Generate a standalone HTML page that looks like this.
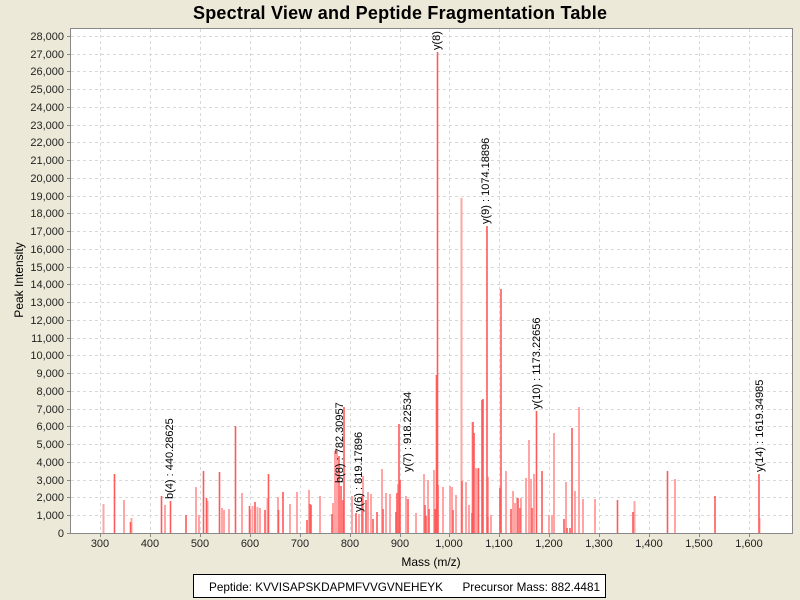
<!DOCTYPE html>
<html><head><meta charset="utf-8"><style>
body{margin:0;background:#ECE9D8;}
svg{display:block;font-family:"Liberation Sans",sans-serif;}
</style></head><body>
<svg width="800" height="600" xmlns="http://www.w3.org/2000/svg">
<rect width="800" height="600" fill="#ECE9D8"/>
<text x="400" y="19" text-anchor="middle" font-size="18" font-weight="bold" textLength="414">Spectral View and Peptide Fragmentation Table</text>
<rect x="70.5" y="28.5" width="722" height="505" fill="#fff"/>
<g stroke="#d8d8d8" stroke-dasharray="3,3" stroke-width="1">
<path d="M71 515.5H792M71 497.5H792M71 480.5H792M71 462.5H792M71 444.5H792M71 426.5H792M71 409.5H792M71 391.5H792M71 373.5H792M71 355.5H792M71 338.5H792M71 320.5H792M71 302.5H792M71 284.5H792M71 267.5H792M71 249.5H792M71 231.5H792M71 213.5H792M71 196.5H792M71 178.5H792M71 160.5H792M71 142.5H792M71 125.5H792M71 107.5H792M71 89.5H792M71 71.5H792M71 54.5H792M71 36.5H792"/>
<path d="M100.5 29V533M150.5 29V533M200.5 29V533M250.5 29V533M300.5 29V533M350.5 29V533M400.5 29V533M449.5 29V533M499.5 29V533M549.5 29V533M599.5 29V533M649.5 29V533M699.5 29V533M749.5 29V533"/>
</g>
<g stroke="#ffa5a5" stroke-width="2">
<path d="M103.5 533V504M124 533V500M131.5 533V518M165 533V505M196 533V487M199 533V515M207.5 533V501M222 533V508M224 533V510M229 533V509M242 533V493M250 533V510M252.5 533V506M257.5 533V507M260 533V508M267.5 533V498M278 533V497M290 533V504M297 533V492M309 533V490M320 533V496M333 533V503M335 533V451M337 533V450M352 533V496M359 533V514M363 533V476M368 533V492M371 533V494M382 533V469M386 533V493M390 533V494M398 533V484M406 533V496M416 533V513M424 533V474M428 533V480M434 533V470M443 533V487M450 533V486M452 533V487M456 533V495M461.5 533V198M466 533V482M469 533V505M472.5 533V422M476 533V468M478 533V469M488 533V477M491 533V515M506 533V471M513 533V491M515 533V503M517 533V498M521 533V498M526 533V478M529 533V440M531 533V479M534 533V474M549 533V515M552 533V515M554 533V433M566 533V482M575 533V491M579 533V407M583 533V499M595 533V499M634.5 533V501M675 533V479M759.5 533V518"/>
</g>
<g stroke="#ff5a5a" stroke-width="1.6">
<path d="M114.5 533V474M130.5 533V522M161.5 533V496M170.5 533V501M186 533V515M203.5 533V471M206.5 533V498M219.5 533V472M235.5 533V426M249.5 533V506M255 533V502M265 533V510M268.5 533V474M278.5 533V510M283 533V492M307 533V520M310 533V504M311 533V505M332 533V514M339 533V456M341 533V486M343 533V500M344 533V407M356 533V513M362 533V496M366 533V500M373 533V519M377 533V512M383 533V509M396 533V512M397 533V493M399 533V424M400 533V480M408 533V499M425 533V505M426 533V516M429 533V509M435 533V509M436.5 533V375M437.5 533V52M438 533V485M453 533V510M462 533V481M472 533V513M473 533V422M474 533V433M478.5 533V468M482 533V400M483 533V399M487 533V226M487.5 533V517M500 533V488M501 533V289M511 533V509M518 533V498M520 533V508M532 533V508M536.5 533V411M542 533V471M564 533V519M567 533V528M570 533V528M572 533V428M617.5 533V500M633 533V512M667.5 533V471M715 533V496M759 533V474"/>
</g>
<rect x="70.5" y="28.5" width="722" height="505" fill="none" stroke="#888"/>
<defs><clipPath id="c"><rect x="70" y="28" width="723" height="506"/></clipPath></defs>
<g font-size="11" clip-path="url(#c)">
<text transform="translate(173,499) rotate(-90)">b(4) : 440.28625</text>
<text transform="translate(343,483) rotate(-90)">b(8) : 782.30957</text>
<text transform="translate(362,512) rotate(-90)">y(6) : 819.17896</text>
<text transform="translate(411,472) rotate(-90)">y(7) : 918.22534</text>
<text transform="translate(440,50) rotate(-90)">y(8) : 974.41296</text>
<text transform="translate(489,224) rotate(-90)">y(9) : 1074.18896</text>
<text transform="translate(540,409) rotate(-90)">y(10) : 1173.22656</text>
<text transform="translate(763,472) rotate(-90)">y(14) : 1619.34985</text>
</g>
<g stroke="#888"><path d="M67 533.5H70M67 515.5H70M67 497.5H70M67 480.5H70M67 462.5H70M67 444.5H70M67 426.5H70M67 409.5H70M67 391.5H70M67 373.5H70M67 355.5H70M67 338.5H70M67 320.5H70M67 302.5H70M67 284.5H70M67 267.5H70M67 249.5H70M67 231.5H70M67 213.5H70M67 196.5H70M67 178.5H70M67 160.5H70M67 142.5H70M67 125.5H70M67 107.5H70M67 89.5H70M67 71.5H70M67 54.5H70M67 36.5H70"/>
<path d="M100.5 534V537M150.5 534V537M200.5 534V537M250.5 534V537M300.5 534V537M350.5 534V537M400.5 534V537M449.5 534V537M499.5 534V537M549.5 534V537M599.5 534V537M649.5 534V537M699.5 534V537M749.5 534V537"/></g>
<g font-size="11" text-anchor="end" fill="#222">
<text x="64" y="537">0</text><text x="64" y="519">1,000</text><text x="64" y="501">2,000</text><text x="64" y="484">3,000</text><text x="64" y="466">4,000</text><text x="64" y="448">5,000</text><text x="64" y="430">6,000</text><text x="64" y="413">7,000</text><text x="64" y="395">8,000</text><text x="64" y="377">9,000</text><text x="64" y="359">10,000</text><text x="64" y="342">11,000</text><text x="64" y="324">12,000</text><text x="64" y="306">13,000</text><text x="64" y="288">14,000</text><text x="64" y="271">15,000</text><text x="64" y="253">16,000</text><text x="64" y="235">17,000</text><text x="64" y="217">18,000</text><text x="64" y="200">19,000</text><text x="64" y="182">20,000</text><text x="64" y="164">21,000</text><text x="64" y="146">22,000</text><text x="64" y="129">23,000</text><text x="64" y="111">24,000</text><text x="64" y="93">25,000</text><text x="64" y="75">26,000</text><text x="64" y="58">27,000</text><text x="64" y="40">28,000</text>
</g>
<g font-size="11" text-anchor="middle" fill="#222">
<text x="100" y="547">300</text><text x="150" y="547">400</text><text x="200" y="547">500</text><text x="250" y="547">600</text><text x="300" y="547">700</text><text x="350" y="547">800</text><text x="400" y="547">900</text><text x="449" y="547">1,000</text><text x="499" y="547">1,100</text><text x="549" y="547">1,200</text><text x="599" y="547">1,300</text><text x="649" y="547">1,400</text><text x="699" y="547">1,500</text><text x="749" y="547">1,600</text>
</g>
<text x="431" y="566" font-size="12" text-anchor="middle">Mass (m/z)</text>
<text transform="translate(23,280) rotate(-90)" font-size="12" text-anchor="middle">Peak Intensity</text>
<rect x="193.5" y="574.5" width="412" height="23" fill="#fff" stroke="#000"/>
<text x="209" y="591" font-size="12" xml:space="preserve" textLength="391" lengthAdjust="spacingAndGlyphs">Peptide: KVVISAPSKDAPMFVVGVNEHEYK      Precursor Mass: 882.4481</text>
</svg>
</body></html>
